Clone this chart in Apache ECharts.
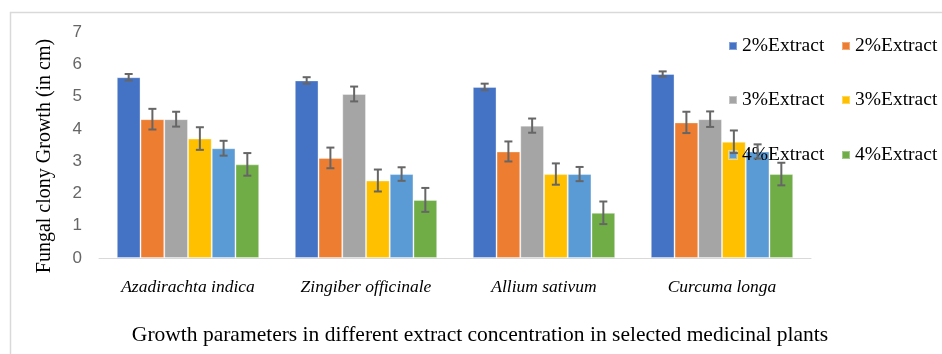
<!DOCTYPE html>
<html>
<head>
<meta charset="utf-8">
<script src="https://cdn.jsdelivr.net/npm/echarts@6/dist/echarts.min.js"></script>
<style>
html,body{margin:0;padding:0;background:#fff;}
#chart{width:942px;height:354px;}
</style>
</head>
<body>
<div id="chart"></div>
<script>
var categories = ['Azadirachta indica', 'Zingiber officinale', 'Allium sativum', 'Curcuma longa'];
var seriesLabels = ['2%Extract', '2%Extract', '3%Extract', '3%Extract', '4%Extract', '4%Extract'];
var seriesColors = ['#4472C4', '#ED7D31', '#A5A5A5', '#FFC000', '#5B9BD5', '#70AD47'];
var s1 = [5.6, 5.5, 5.3, 5.7];
var s2 = [4.3, 3.1, 3.3, 4.2];
var s3 = [4.3, 5.08, 4.1, 4.3];
var s4 = [3.7, 2.4, 2.6, 3.6];
var s5 = [3.4, 2.6, 2.6, 3.3];
var s6 = [2.9, 1.8, 1.4, 2.6];
var e1 = [0.1, 0.1, 0.1, 0.08];
var e2 = [0.32, 0.32, 0.31, 0.33];
var e3 = [0.23, 0.23, 0.22, 0.24];
var e4 = [0.35, 0.34, 0.33, 0.35];
var e5 = [0.23, 0.21, 0.22, 0.22];
var e6 = [0.35, 0.37, 0.35, 0.35];
var yTicks = [0, 1, 2, 3, 4, 5, 6, 7];
var yTitle = 'Fungal clony Growth (in cm)';
var xTitle = 'Growth parameters in different extract concentration in selected medicinal plants';

var values = [s1, s2, s3, s4, s5, s6];
var errors = [e1, e2, e3, e4, e5, e6];
var ids = ['A', 'B', 'C', 'D', 'E', 'F'];
var nSeries = values.length;

var series = [];
values.forEach(function (v, i) {
  series.push({
    name: ids[i],
    type: 'bar',
    data: v,
    barGap: '0%',
    barCategoryGap: '20%',
    itemStyle: { color: seriesColors[i], borderColor: 'rgba(255,255,255,0.35)', borderWidth: 1 }
  });
});
var errData = [];
values.forEach(function (v, i) {
  v.forEach(function (val, c) {
    errData.push([c, val, errors[i][c], i]);
  });
});
series.push({
  type: 'custom',
  z: 5,
  data: errData,
  renderItem: function (params, api) {
    var c = api.value(0), val = api.value(1), err = api.value(2), s = api.value(3);
    var center = api.coord([c, val]);
    var band = api.size([1, 0])[0];
    var barW = band * 0.8 / nSeries;
    var x = center[0] + (s - (nSeries - 1) / 2) * barW;
    var yTop = api.coord([c, val + err])[1];
    var yBot = api.coord([c, val - err])[1];
    var cap = 4;
    var st = { stroke: '#666666', lineWidth: 2 };
    return {
      type: 'group',
      children: [
        { type: 'line', shape: { x1: x, y1: yTop, x2: x, y2: yBot }, style: st },
        { type: 'line', shape: { x1: x - cap, y1: yTop, x2: x + cap, y2: yTop }, style: st },
        { type: 'line', shape: { x1: x - cap, y1: yBot, x2: x + cap, y2: yBot }, style: st }
      ]
    };
  }
});

var legendPos = [[728, 36], [841, 36], [728, 90], [841, 90], [728, 145], [841, 145]];
var legends = ids.map(function (id, i) {
  return {
    data: [id],
    left: legendPos[i][0],
    top: legendPos[i][1],
    padding: 0,
    itemWidth: 8,
    itemHeight: 8,
    icon: 'rect',
    selectedMode: false,
    formatter: function () { return seriesLabels[i]; },
    textStyle: { fontFamily: 'Liberation Serif', fontSize: 19.5, color: '#000' }
  };
});

var chart = echarts.init(document.getElementById('chart'));
chart.setOption({
  animation: false,
  backgroundColor: '#fff',
  color: seriesColors,
  grid: { left: 99, right: 131, top: 32, bottom: 96 },
  legend: legends,
  xAxis: {
    type: 'category',
    data: categories,
    axisLine: { lineStyle: { color: '#d9d9d9', width: 1 } },
    axisTick: { show: false },
    axisLabel: { interval: 0, hideOverlap: false, fontFamily: 'Liberation Serif', fontStyle: 'italic', fontSize: 17.5, color: '#000', margin: 20 }
  },
  yAxis: {
    type: 'value',
    min: yTicks[0],
    max: yTicks[yTicks.length - 1],
    interval: 1,
    splitLine: { show: false },
    axisLine: { show: false },
    axisTick: { show: false },
    axisLabel: { fontFamily: 'Liberation Sans', fontSize: 17, color: '#666666', margin: 17 }
  },
  graphic: [
    { type: 'rect', left: 8, top: 10, shape: { width: 933, height: 360 }, style: { fill: 'none', stroke: '#d9d9d9', lineWidth: 1.5 }, z: -1 },
    { type: 'text', x: 45, y: 156, rotation: Math.PI / 2, style: { text: yTitle, fontFamily: 'Liberation Serif', fontSize: 20, fill: '#000', align: 'center', verticalAlign: 'middle' } },
    { type: 'text', x: 480, y: 335, style: { text: xTitle, fontFamily: 'Liberation Serif', fontSize: 21.5, fill: '#000', align: 'center', verticalAlign: 'middle' } }
  ],
  series: series
});
</script>
</body>
</html>
